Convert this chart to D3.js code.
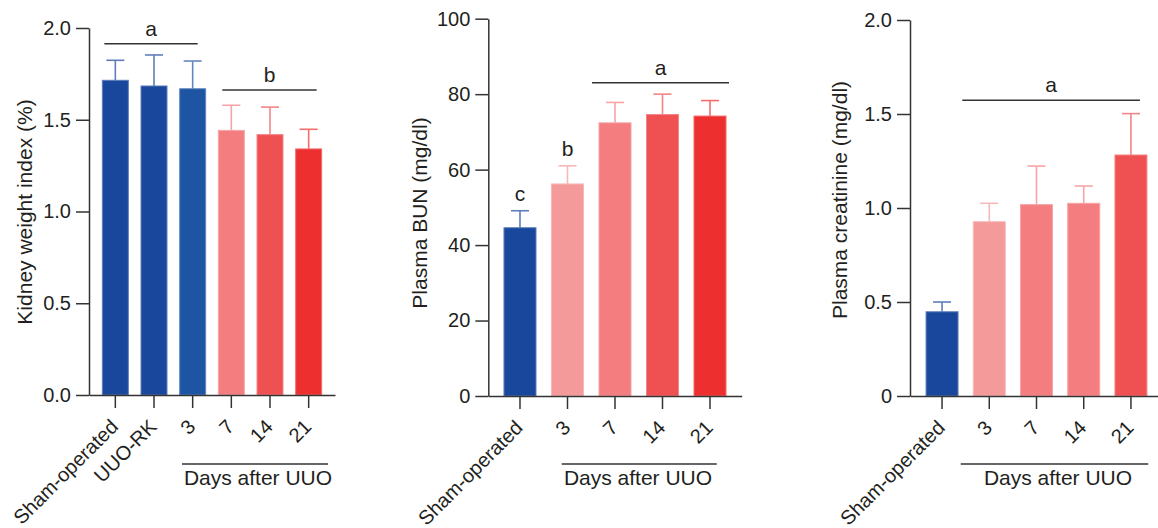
<!DOCTYPE html>
<html>
<head>
<meta charset="utf-8">
<script src="https://cdn.jsdelivr.net/npm/d3@7"></script>
<style>
  body { margin: 0; background: #fff; }
  text { font-family: "Liberation Sans", Arial, sans-serif; fill: #231f20; }
</style>
</head>
<body>
<script>
const W = 1158
const H = 528

// kidney weight index
const kidneyCats = ['Sham-operated', 'UUO-RK', '3', '7', '14', '21']
const kidneyMean = [1.715, 1.684, 1.669, 1.442, 1.419, 1.341]
const kidneyErr = [0.109, 0.169, 0.151, 0.137, 0.150, 0.107]
const kidneyTicks = [0, 0.5, 1.0, 1.5, 2.0]

// plasma BUN
const bunCats = ['Sham-operated', '3', '7', '14', '21']
const bunMean = [44.6, 56.2, 72.4, 74.6, 74.2]
const bunErr = [4.5, 4.8, 5.4, 5.4, 4.1]
const bunLetters = ['c', 'b', '', '', '']
const bunTicks = [0, 20, 40, 60, 80, 100]

// plasma creatinine
const creatCats = ['Sham-operated', '3', '7', '14', '21']
const creatMean = [0.448, 0.927, 1.018, 1.025, 1.282]
const creatErr = [0.052, 0.098, 0.205, 0.092, 0.220]
const creatTicks = [0, 0.5, 1.0, 1.5, 2.0]

const blue = '#19479b', blue2 = '#1e55a3'
const pink1 = '#f49a9b', pink2 = '#f47d80', pink3 = '#ef5152', red = '#ee2f2f'

const svg = d3.select('body')
  .append('svg')
  .attr('width', W)
  .attr('height', H)

const panels = [
  {
    cats: kidneyCats, mean: kidneyMean, err: kidneyErr, letters: null,
    colors: [blue, blue, blue2, pink2, pink3, red],
    ticks: kidneyTicks, fmt: d3.format('.1f'), max: 2,
    xr: [89, 335], yr: [395, 28], pi: 0.328, po: 0.345,
    title: 'Kidney weight index (%)', tx: 25, ty: 212,
    sig: [{ label: 'a', from: 0, to: 2, y: 1.914, dl: 2, dr: -8 },
          { label: 'b', from: 3, to: 5, y: 1.662, dl: 4, dr: -5 }],
    days: [182, 328], daysX: 258
  },
  {
    cats: bunCats, mean: bunMean, err: bunErr, letters: bunLetters,
    colors: [blue, pink1, pink2, pink3, red],
    ticks: bunTicks, fmt: d3.format('d'), max: 100,
    xr: [488.3, 741.7], yr: [396, 18.7], pi: 0.326, po: 0.33,
    title: 'Plasma BUN (mg/dl)', tx: 420, ty: 213,
    sig: [{ label: 'a', from: 2, to: 4, y: 83.0, dl: -7, dr: 3 }],
    days: [561.7, 716.7], daysX: 638
  },
  {
    cats: creatCats, mean: creatMean, err: creatErr, letters: null,
    colors: [blue, pink1, pink2, pink2, pink3],
    ticks: creatTicks, fmt: d => d === 0 ? '0' : d3.format('.1f')(d), max: 2,
    xr: [910, 1163], yr: [396, 20], pi: 0.323, po: 0.34,
    title: 'Plasma creatinine (mg/dl)', tx: 840, ty: 200,
    sig: [{ label: 'a', from: 1, to: 4, y: 1.573, dl: -11, dr: -7 }],
    days: [960.7, 1148.3], daysX: 1058
  }
]

const lighten = c => d3.interpolateRgb(c, '#fff')(0.3)

panels.forEach(p => {
  const x = d3.scaleBand()
    .domain(p.cats)
    .range(p.xr)
    .paddingInner(p.pi)
    .paddingOuter(p.po)
  const y = d3.scaleLinear()
    .domain([0, p.max])
    .range(p.yr)
  const bw = x.bandwidth()
  const g = svg.append('g')

  const rows = p.cats.map((c, i) => ({ cat: c, mean: p.mean[i], err: p.err[i], color: p.colors[i], letter: p.letters ? p.letters[i] : '' }))

  // error bars (upper only)
  const eb = g.selectAll('.err').data(rows).enter().append('g')
    .attr('stroke', d => lighten(d.color))
    .attr('stroke-width', 1.6)
  eb.append('line')
    .attr('x1', d => x(d.cat) + bw / 2)
    .attr('x2', d => x(d.cat) + bw / 2)
    .attr('y1', d => y(d.mean))
    .attr('y2', d => y(d.mean + d.err))
  eb.append('line')
    .attr('x1', d => x(d.cat) + bw / 2 - 9)
    .attr('x2', d => x(d.cat) + bw / 2 + 9)
    .attr('y1', d => y(d.mean + d.err))
    .attr('y2', d => y(d.mean + d.err))

  // bars
  g.selectAll('.bar').data(rows).enter().append('rect')
    .attr('x', d => x(d.cat))
    .attr('y', d => y(d.mean))
    .attr('width', bw)
    .attr('height', d => y(0) - y(d.mean))
    .attr('fill', d => d.color)
    .attr('stroke', d => lighten(d.color))
    .attr('stroke-width', 1)

  // letters on single bars
  g.selectAll('.let').data(rows.filter(d => d.letter)).enter().append('text')
    .attr('x', d => x(d.cat) + bw / 2)
    .attr('y', d => y(d.mean + d.err) - 10)
    .attr('text-anchor', 'middle')
    .style('font-size', '21px')
    .text(d => d.letter)

  // significance lines
  p.sig.forEach(s => {
    const x1 = x(p.cats[s.from]) + s.dl
    const x2 = x(p.cats[s.to]) + bw + s.dr
    g.append('line')
      .attr('x1', x1).attr('x2', x2)
      .attr('y1', y(s.y)).attr('y2', y(s.y))
      .attr('stroke', '#333').attr('stroke-width', 1.5)
    g.append('text')
      .attr('x', (x1 + x2) / 2)
      .attr('y', y(s.y) - 8)
      .attr('text-anchor', 'middle')
      .style('font-size', '21px')
      .text(s.label)
  })

  // axes
  const yAxis = g.append('g')
    .attr('transform', 'translate(' + p.xr[0] + ',0)')
    .call(d3.axisLeft(y).tickValues(p.ticks).tickFormat(p.fmt).tickSize(13).tickPadding(5).tickSizeOuter(0))
  yAxis.selectAll('text').style('font-size', '20px').attr('fill', '#231f20')

  const xAxis = g.append('g')
    .attr('transform', 'translate(0,' + y(0) + ')')
    .call(d3.axisBottom(x).tickSize(13).tickSizeOuter(0))
  xAxis.selectAll('text')
    .style('font-size', '20px')
    .attr('fill', '#231f20')
    .attr('text-anchor', 'end')
    .attr('y', 0).attr('dy', 0)
    .attr('transform', 'translate(4,33) rotate(-45)')

  g.selectAll('.domain, .tick line').attr('stroke', '#333').attr('stroke-width', 1.5)

  // axis title
  g.append('text')
    .attr('transform', 'translate(' + p.tx + ',' + p.ty + ') rotate(-90)')
    .attr('dy', '0.35em')
    .attr('text-anchor', 'middle')
    .style('font-size', '21px')
    .text(p.title)

  // days after UUO
  g.append('line')
    .attr('x1', p.days[0]).attr('x2', p.days[1])
    .attr('y1', 464).attr('y2', 464)
    .attr('stroke', '#333').attr('stroke-width', 1.5)
  g.append('text')
    .attr('x', p.daysX).attr('y', 485)
    .attr('text-anchor', 'middle')
    .style('font-size', '21px')
    .text('Days after UUO')
})
</script>
</body>
</html>
